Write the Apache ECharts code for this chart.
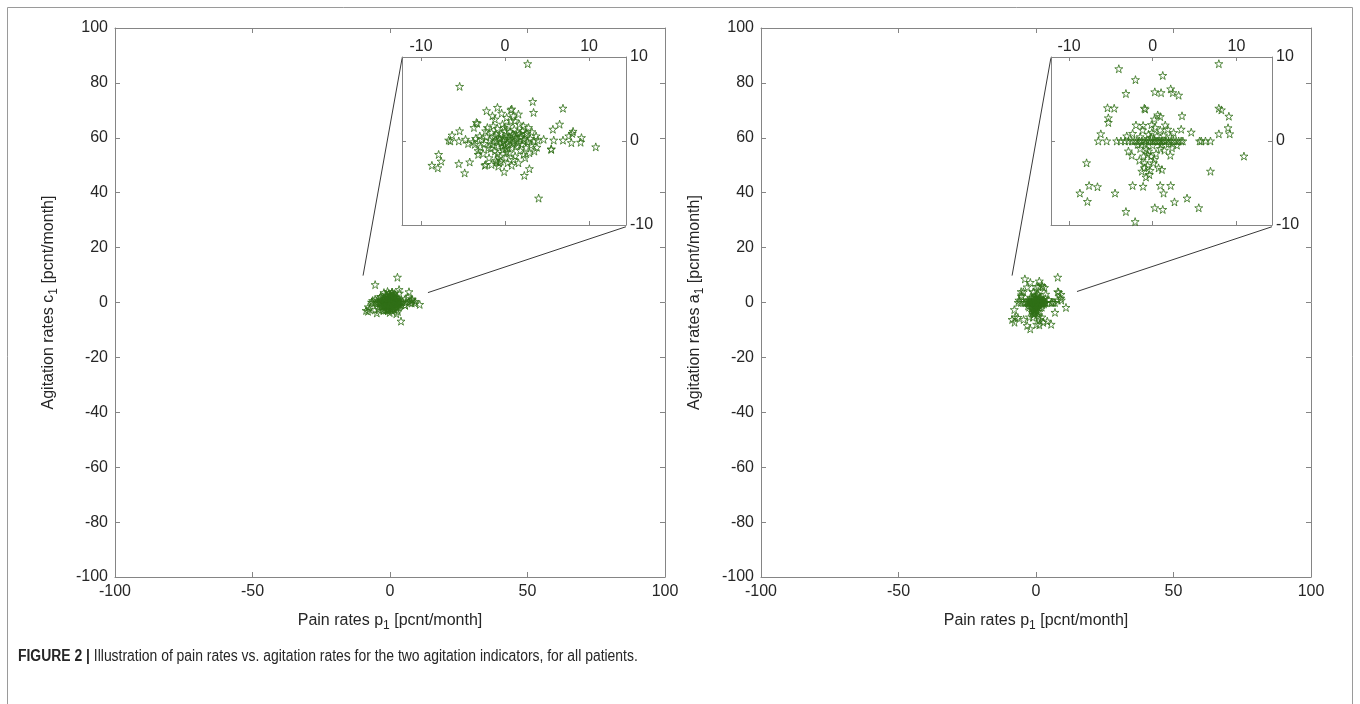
<!DOCTYPE html>
<html>
<head>
<meta charset="utf-8">
<script src="https://cdn.jsdelivr.net/npm/echarts@6/dist/echarts.min.js"></script>
<style>
  html, body { margin: 0; padding: 0; background: #fff; }
  #chart { width: 1360px; height: 704px; }
</style>
</head>
<body>
<div id="chart"></div>
<script>
// pain rate p1 vs agitation rate c1 (left panel)
const pointsC = [
  [2.7, 9.2], [-5.4, 6.5], [3.3, 4.7], [3.4, 3.4], [6.9, 3.9], [-2.2, 3.6], [-0.9, 4.0], [0.7, 3.7],
  [6.5, 2.0], [5.7, 1.4], [8.1, 1.15], [9.1, 0.4], [9.0, -0.15], [7.9, -0.2], [6.9, 0.1], [5.8, 0.1],
  [4.6, 0.2], [5.5, -1.0], [5.5, -0.95], [3.8, -0.75], [10.8, -0.7], [-7.9, -1.6], [-7.6, -2.4],
  [-8.7, -2.9], [-8.0, -3.2], [-5.5, -2.7], [-4.2, -2.5], [-4.8, -3.8], [-2.4, -2.9], [-2.3, -2.8],
  [-0.1, -3.65], [2.9, -3.3], [2.3, -4.1], [4.0, -6.8], [-6.7, 0.1], [-6.5, 0.0], [-6.3, 0.7],
  [-5.4, 1.2], [-5.5, 0.0], [-4.7, 0.2], [-4.4, -0.3], [-3.7, 1.6], [-3.4, 2.2], [-3.3, 2.1],
  [-3.6, -0.4], [-3.2, -1.6], [-3.0, 0.6], [-3.2, -1.15], [-1.0, -2.5], [-0.7, -2.6], [-0.9, -1.5],
  [8.0, 0.9], [7.6, 0.6], [2.2, 1.8], [1.0, 3.0], [0.8, 3.8], [2.4, 0.8], [-1.5, 3.0], [-1.2, 2.6],
  [0.2, 2.8], [1.2, 2.4], [-0.4, 3.3], [1.6, 3.2],
  [-2.8, 0.2], [-2.5, -0.3], [-2.2, 0.5], [-2.0, -0.8], [-1.8, 0.1], [-1.6, 1.0], [-1.5, -0.4],
  [-1.3, 0.6], [-1.2, -1.2], [-1.0, 0.0], [-0.9, 1.5], [-0.8, -0.6], [-0.7, 0.4], [-0.6, -1.8],
  [-0.5, 0.9], [-0.4, -0.2], [-0.3, 2.0], [-0.2, -1.0], [-0.1, 0.3], [0.0, -0.5], [0.0, 1.2],
  [0.1, -2.0], [0.2, 0.6], [0.3, -0.3], [0.4, 1.8], [0.5, -1.4], [0.6, 0.1], [0.7, 2.4], [0.8, -0.8],
  [0.9, 0.8], [1.0, -0.1], [1.1, 1.4], [1.2, -1.8], [1.3, 0.4], [1.4, -0.6], [1.5, 1.0], [1.6, -0.2],
  [1.7, 2.0], [1.8, -1.1], [1.9, 0.5], [2.0, -0.4], [2.1, 1.2], [2.2, -1.6], [2.3, 0.2], [2.5, -0.8],
  [2.6, 0.9], [2.7, -0.1], [2.8, 1.6], [3.0, 0.3], [3.1, -0.5], [3.2, 1.1], [3.4, 0.0], [3.5, -1.2],
  [3.7, 0.6], [3.9, 0.1], [-2.6, -1.5], [-2.3, 1.2], [-1.9, -2.0], [-1.4, 1.8], [-1.1, -2.3],
  [-0.5, -2.4], [0.3, -2.6], [1.0, -2.2], [1.6, -2.6], [2.4, -2.0], [-3.5, 0.3], [-3.8, -0.1],
  [-2.9, -0.7], [-0.2, 0.0], [0.4, 0.3], [0.9, -0.4], [-0.6, 0.2], [1.4, 0.2], [0.1, -0.9],
  [-1.7, -0.9], [-0.1, 1.6], [2.9, -1.4], [-2.1, 1.6], [0.6, 1.1], [1.1, 0.6], [-1.0, 0.8],
  [0.2, -1.3], [-0.3, -0.7], [0.5, 0.5], [1.8, 0.9], [2.2, 0.1], [-1.3, -0.1], [0.8, -2.9],
  [-0.8, -3.0], [-1.6, -2.8]
];

// pain rate p1 vs agitation rate a1 (right panel)
const pointsA = [
  [7.9, 9.2], [-4.05, 8.6], [-2.06, 7.3], [1.2, 7.8], [-3.2, 5.65], [0.25, 5.85], [1.0, 5.75],
  [2.15, 6.2], [2.4, 5.75], [3.1, 5.45], [-5.4, 3.95], [-4.6, 3.9], [-1.0, 3.9], [-0.9, 3.8],
  [7.9, 3.9], [8.2, 3.7], [9.1, 2.95], [-5.3, 2.75], [-5.3, 2.2], [0.6, 3.1], [0.9, 2.9], [3.5, 3.0],
  [0.2, 2.6], [-1.15, 1.85], [-0.15, 1.95], [1.5, 1.9], [1.8, 1.4], [-6.2, 0.85], [3.4, 1.4],
  [4.6, 1.05], [9.0, 1.57], [9.2, 0.85], [7.9, 0.85], [-6.5, 0.0], [-5.5, 0.0], [10.9, -1.8],
  [-7.9, -2.6], [6.9, -3.6], [-7.6, -5.3], [-6.6, -5.45], [-8.7, -6.2], [-7.8, -7.2], [-4.5, -6.2],
  [-2.4, -5.3], [-1.15, -5.4], [0.9, -5.3], [2.15, -5.3], [1.3, -6.2], [2.6, -7.25], [4.1, -6.8],
  [5.5, -7.95], [0.25, -7.95], [1.2, -8.15], [-3.2, -8.4], [-2.1, -9.6],
  [-4.3, 0], [-3.8, 0], [-3.3, 0], [-2.9, 0], [-2.5, 0], [-2.2, 0], [-1.9, 0], [-1.6, 0], [-1.3, 0],
  [-1.0, 0], [-0.8, 0], [-0.5, 0], [-0.3, 0], [0, 0], [0.2, 0], [0.4, 0], [0.6, 0], [0.8, 0], [1.0, 0],
  [1.2, 0], [1.4, 0], [1.6, 0], [1.9, 0], [2.2, 0], [2.5, 0], [2.8, 0], [3.1, 0], [3.4, 0], [3.6, 0],
  [5.6, 0], [5.8, 0], [6.3, 0], [6.9, 0],
  [-0.8, -4.3], [-1.3, -3.6], [-0.3, -3.5], [0.7, -3.2], [1.1, -3.4], [-1.0, -2.6], [0.1, -2.6],
  [-1.1, -1.8], [-0.2, -1.8], [-2.9, -1.2], [-2.5, -1.7], [0.9, -0.9], [2.1, -1.7], [2.3, -0.8],
  [-1.5, -0.9], [-0.5, -1.2], [0.4, -1.5], [1.4, -1.1], [-1.6, -2.3], [-0.6, -2.9], [-1.0, -3.2],
  [-0.4, -4.0], [-2.4, 0.9], [-1.5, 0.5], [-0.5, 0.8], [0.5, 0.6], [1.3, 0.7], [2.1, 0.5], [-1.2, 1.3],
  [-0.1, 1.0], [0.9, 1.3], [2.5, 1.0], [-3.1, 0.6], [-2.0, 1.9], [-1.8, -0.4], [0.0, -0.5], [1.0, -0.4],
  [1.9, -0.3], [-0.9, -0.3], [2.9, -0.5], [0.3, 1.6], [-0.6, -1.6], [0.2, -2.2], [-0.8, -1.0], [-0.2, 0.4]
];

// connector lines from the zoomed area to the inset corners (main-axis units)
const linksC = [[[-9.8, 9.8], [4.4, 89.0]], [[13.8, 3.6], [85.8, 27.6]]];
const linksA = [[[-8.7, 9.8], [5.4, 89.0]], [[14.9, 4.0], [85.8, 27.6]]];

const insetTicks = [-10, 0, 10];
const insetRangeC = [-12.26, 14.4];
const insetRangeA = [-12.15, 14.25];

const xName = 'Pain rates p{s|1} [pcnt/month]';
const yNameC = 'Agitation rates c{s|1} [pcnt/month]';
const yNameA = 'Agitation rates a{s|1} [pcnt/month]';
const captionBold = 'FIGURE 2 |';
const captionText = ' Illustration of pain rates vs. agitation rates for the two agitation indicators, for all patients.';

const FONT = 'Liberation Sans';
const AXIS_COLOR = '#858585';
const TEXT_COLOR = '#262626';
const STAR_COLOR = '#2f6f17';

// hollow five-pointed star
function starPath() {
  let d = '';
  for (let k = 0; k < 10; k++) {
    const a = (-90 + 36 * k) * Math.PI / 180;
    const r = k % 2 === 0 ? 1 : 0.382;
    d += (k === 0 ? 'M' : 'L') + (r * Math.cos(a)).toFixed(4) + ',' + (r * Math.sin(a)).toFixed(4);
  }
  return 'path://' + d + 'Z';
}
const STAR = starPath();

const nameRich = {
  s: { fontSize: 12, fontFamily: FONT, color: TEXT_COLOR, padding: [9, 0, 0, 0], lineHeight: 12 }
};

function axisBase(extra) {
  return Object.assign({
    type: 'value',
    axisLine: { show: true, onZero: false, lineStyle: { color: AXIS_COLOR, width: 1 } },
    axisTick: { show: true, inside: true, length: 5, lineStyle: { color: AXIS_COLOR } },
    splitLine: { show: false },
    axisLabel: { show: true, color: TEXT_COLOR, fontSize: 16, fontFamily: FONT }
  }, extra);
}

function mainAxes(grid, yName) {
  const x = [
    axisBase({ gridIndex: grid, position: 'bottom', min: -100, max: 100, interval: 50,
      axisLabel: { color: TEXT_COLOR, fontSize: 16, fontFamily: FONT, margin: 7 },
      name: xName, nameLocation: 'middle', nameGap: 36,
      nameTextStyle: { color: TEXT_COLOR, fontSize: 16, fontFamily: FONT, rich: nameRich } }),
    axisBase({ gridIndex: grid, position: 'top', min: -100, max: 100, interval: 50,
      axisLabel: { show: false } })
  ];
  const y = [
    axisBase({ gridIndex: grid, position: 'left', min: -100, max: 100, interval: 20,
      axisLabel: { color: TEXT_COLOR, fontSize: 16, fontFamily: FONT, margin: 7 },
      name: yName, nameLocation: 'middle', nameGap: 58,
      nameTextStyle: { color: TEXT_COLOR, fontSize: 16, fontFamily: FONT, rich: nameRich } }),
    axisBase({ gridIndex: grid, position: 'right', min: -100, max: 100, interval: 20,
      axisLabel: { show: false } })
  ];
  return { x, y };
}

function insetAxes(grid, range) {
  const tick = { show: true, inside: true, length: 4, customValues: insetTicks, lineStyle: { color: AXIS_COLOR } };
  const x = [
    axisBase({ gridIndex: grid, position: 'top', min: range[0], max: range[1], axisTick: tick,
      axisLabel: { color: TEXT_COLOR, fontSize: 16, fontFamily: FONT, margin: 2, customValues: insetTicks } }),
    axisBase({ gridIndex: grid, position: 'bottom', min: range[0], max: range[1], axisTick: tick,
      axisLabel: { show: false } })
  ];
  const y = [
    axisBase({ gridIndex: grid, position: 'right', min: -10, max: 10, axisTick: tick,
      axisLabel: { color: TEXT_COLOR, fontSize: 16, fontFamily: FONT, margin: 4, customValues: insetTicks } }),
    axisBase({ gridIndex: grid, position: 'left', min: -10, max: 10, axisTick: tick,
      axisLabel: { show: false } })
  ];
  return { x, y };
}

const a0 = mainAxes(0, yNameC);
const a1 = insetAxes(1, insetRangeC);
const a2 = mainAxes(2, yNameA);
const a3 = insetAxes(3, insetRangeA);

function scatter(data, axisIdx) {
  return {
    type: 'scatter', xAxisIndex: axisIdx, yAxisIndex: axisIdx, data: data,
    symbol: STAR, symbolSize: 8, silent: true, z: 3,
    itemStyle: { color: 'rgba(0,0,0,0)', borderColor: STAR_COLOR, borderWidth: 1 }
  };
}

function links(list, axisIdx) {
  return list.map(seg => ({
    type: 'line', xAxisIndex: axisIdx, yAxisIndex: axisIdx, data: seg,
    symbol: 'none', silent: true, clip: false, z: 1,
    lineStyle: { color: '#3a3a3a', width: 1 }
  }));
}

const chart = echarts.init(document.getElementById('chart'));
chart.setOption({
  animation: false,
  backgroundColor: '#fff',
  textStyle: { fontFamily: FONT },
  grid: [
    { left: 115, top: 28, width: 550, height: 549 },
    { left: 402, top: 57, width: 224, height: 168, show: true, backgroundColor: '#fff', borderWidth: 0 },
    { left: 761, top: 28, width: 550, height: 549 },
    { left: 1051, top: 57, width: 221, height: 168, show: true, backgroundColor: '#fff', borderWidth: 0 }
  ],
  xAxis: [].concat(a0.x, a1.x, a2.x, a3.x),
  yAxis: [].concat(a0.y, a1.y, a2.y, a3.y),
  series: [].concat(
    links(linksC, 0),
    links(linksA, 4),
    [scatter(pointsC, 0), scatter(pointsC, 2), scatter(pointsA, 4), scatter(pointsA, 6)]
  ),
  graphic: [
    { type: 'rect', shape: { x: 7.5, y: 7.5, width: 1345, height: 720 },
      style: { fill: 'none', stroke: '#9a9a9a', lineWidth: 1 }, silent: true, z: -1 },
    { type: 'text', x: 18, y: 649, scaleX: 0.87,
      style: {
        text: '{b|' + captionBold + '}' + captionText,
        fontFamily: FONT, fontSize: 16, fill: TEXT_COLOR,
        rich: { b: { fontFamily: FONT, fontWeight: 'bold', fontSize: 16, fill: TEXT_COLOR } }
      } }
  ]
});
</script>
</body>
</html>
